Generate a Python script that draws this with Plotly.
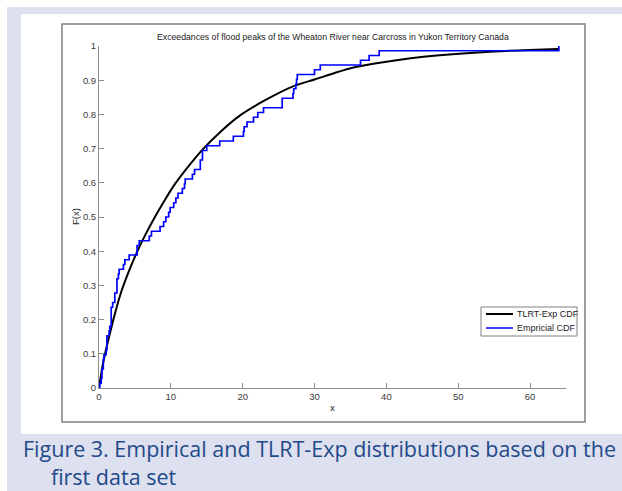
import plotly.graph_objects as go

# ---------------- data ----------------
# Observed flood-peak exceedances (sorted) -> empirical CDF steps
obs = [0.1, 0.3, 0.4, 0.4, 0.6, 0.6, 0.7, 1.0, 1.1, 1.1, 1.1, 1.4, 1.5, 1.7, 1.7,
       1.7, 1.7, 1.9, 2.2, 2.2, 2.5, 2.5, 2.5, 2.7, 2.8, 3.4, 3.6, 4.2, 5.3, 5.3,
       5.6, 7.0, 7.3, 8.5, 9.0, 9.3, 9.7, 9.9, 10.4, 10.7, 11.0, 11.6, 11.9, 12.0,
       13.0, 13.3, 14.1, 14.1, 14.4, 14.4, 15.0, 16.8, 18.7, 20.1, 20.2, 20.6,
       21.5, 22.1, 22.9, 25.5, 25.5, 27.0, 27.1, 27.4, 27.5, 27.6, 30.0, 30.8,
       36.4, 37.6, 39.0, 64.0]

# TLRT-Exp fitted CDF
fit_x = [0, 0.5, 1, 2, 3, 4, 5.3, 6.5, 7.8, 9, 10.3, 12, 14.5, 17, 19.5, 23, 27,
         30, 35, 40, 47, 55, 64]
fit_F = [0, 0.065, 0.115, 0.2, 0.275, 0.333, 0.398, 0.45, 0.501, 0.544, 0.588,
         0.636, 0.699, 0.751, 0.795, 0.84, 0.882, 0.902, 0.935, 0.954, 0.972,
         0.984, 0.991]

x_ticks = [0, 10, 20, 30, 40, 50, 60]
y_ticks = [0, 0.1, 0.2, 0.3, 0.4, 0.5, 0.6, 0.7, 0.8, 0.9, 1]
y_tick_text = ["0", "0.1", "0.2", "0.3", "0.4", "0.5", "0.6", "0.7", "0.8", "0.9", "1"]

series_names = ["TLRT-Exp CDF", "Empricial CDF"]
series_colors = ["black", "#0000ff"]

title = "Exceedances of flood peaks of the Wheaton River near Carcross in Yukon Territory Canada"
caption1 = "Figure 3. Empirical and TLRT-Exp distributions based on the"
caption2 = "first data set"

# empirical CDF staircase
n = len(obs)
ecdf_x = [obs[0]] + obs
ecdf_y = [0] + [(i + 1) / n for i in range(n)]

# ---------------- layout geometry (pixels) ----------------
W, H = 622, 491
L, R, T, B = 99, 56, 46, 103
PW, PH = W - L - R, H - T - B


def px(x):
    return (x - L) / PW


def py(y):
    return (H - B - y) / PH


LAV = "#dde0ef"
AX = "#8c8c8c"
TXT = "#3a3a3a"
FONT = "Liberation Sans, Arial, sans-serif"
CAP_FONT = dict(family="Open Sans, sans-serif", size=21.5, color="#1f4a8a")

fig = go.Figure()
fig.add_trace(go.Scatter(x=fit_x, y=fit_F, mode="lines", name=series_names[0],
                         line=dict(color=series_colors[0], width=2,
                                   shape="spline", smoothing=0.6),
                         showlegend=False))
fig.add_trace(go.Scatter(x=ecdf_x, y=ecdf_y, mode="lines", name=series_names[1],
                         line=dict(color=series_colors[1], width=1.7, shape="hv"),
                         showlegend=False))

shapes = [
    dict(type="rect", xref="paper", yref="paper", layer="below",
         x0=px(7), x1=px(W + 5), y0=py(H + 5), y1=py(7),
         fillcolor=LAV, line=dict(width=0)),
    dict(type="rect", xref="paper", yref="paper", layer="below",
         x0=px(21), x1=px(W + 5), y0=py(434), y1=py(14),
         fillcolor="white", line=dict(width=0)),
    dict(type="rect", xref="paper", yref="paper", layer="below",
         x0=px(62), x1=px(585), y0=py(422), y1=py(24),
         fillcolor="rgba(0,0,0,0)", line=dict(color="#808080", width=1.5)),
    # legend box
    dict(type="rect", xref="paper", yref="paper",
         x0=px(481), x1=px(577), y0=py(336), y1=py(307),
         fillcolor="white", line=dict(color="#808080", width=1)),
]

annotations = [
    dict(text=title, xref="paper", yref="paper", x=px(332.5), y=py(37),
         xanchor="center", yanchor="middle", showarrow=False,
         font=dict(family=FONT, size=8.7, color="#222")),
    dict(text="F(x)", xref="paper", yref="paper", x=px(75), y=py(217),
         xanchor="center", yanchor="middle", showarrow=False, textangle=-90,
         font=dict(family=FONT, size=9.5, color="#222")),
    dict(text="x", xref="paper", yref="paper", x=px(332), y=py(408),
         xanchor="center", yanchor="middle", showarrow=False,
         font=dict(family=FONT, size=9.5, color="#222")),
    dict(text=caption1 + "<br>" + "\u00a0" * 5 + caption2,
         xref="paper", yref="paper", x=px(22), y=py(462),
         xanchor="left", yanchor="middle", align="left", showarrow=False,
         borderpad=0, font=CAP_FONT),
]

# legend entries (sample line + label)
for i, (name, col) in enumerate(zip(series_names, series_colors)):
    yy = 314 + i * 14
    shapes.append(dict(type="line", xref="paper", yref="paper",
                       x0=px(486), x1=px(513), y0=py(yy), y1=py(yy),
                       line=dict(color=col, width=1.5 if i else 2)))
    annotations.append(dict(text=name, xref="paper", yref="paper",
                            x=px(515), y=py(yy), xanchor="left", yanchor="middle",
                            showarrow=False,
                            font=dict(family=FONT, size=9, color="#222")))

fig.update_layout(
    width=W, height=H,
    margin=dict(l=L, r=R, t=T, b=B, pad=0),
    paper_bgcolor="white", plot_bgcolor="rgba(0,0,0,0)",
    shapes=shapes, annotations=annotations,
    showlegend=False,
    xaxis=dict(range=[0, 65], tickvals=x_ticks, ticks="inside", ticklen=5,
               tickcolor=AX, showline=True, linecolor=AX, linewidth=1,
               showgrid=False, zeroline=False, mirror=False,
               tickfont=dict(family=FONT, size=9.5, color=TXT)),
    yaxis=dict(range=[0, 1], tickvals=y_ticks, ticktext=y_tick_text,
               ticks="inside", ticklen=5, tickcolor=AX, showline=True,
               linecolor=AX, linewidth=1, showgrid=False, zeroline=False,
               mirror=False, tickfont=dict(family=FONT, size=9.5, color=TXT)),
)

fig.write_html("out.html")
